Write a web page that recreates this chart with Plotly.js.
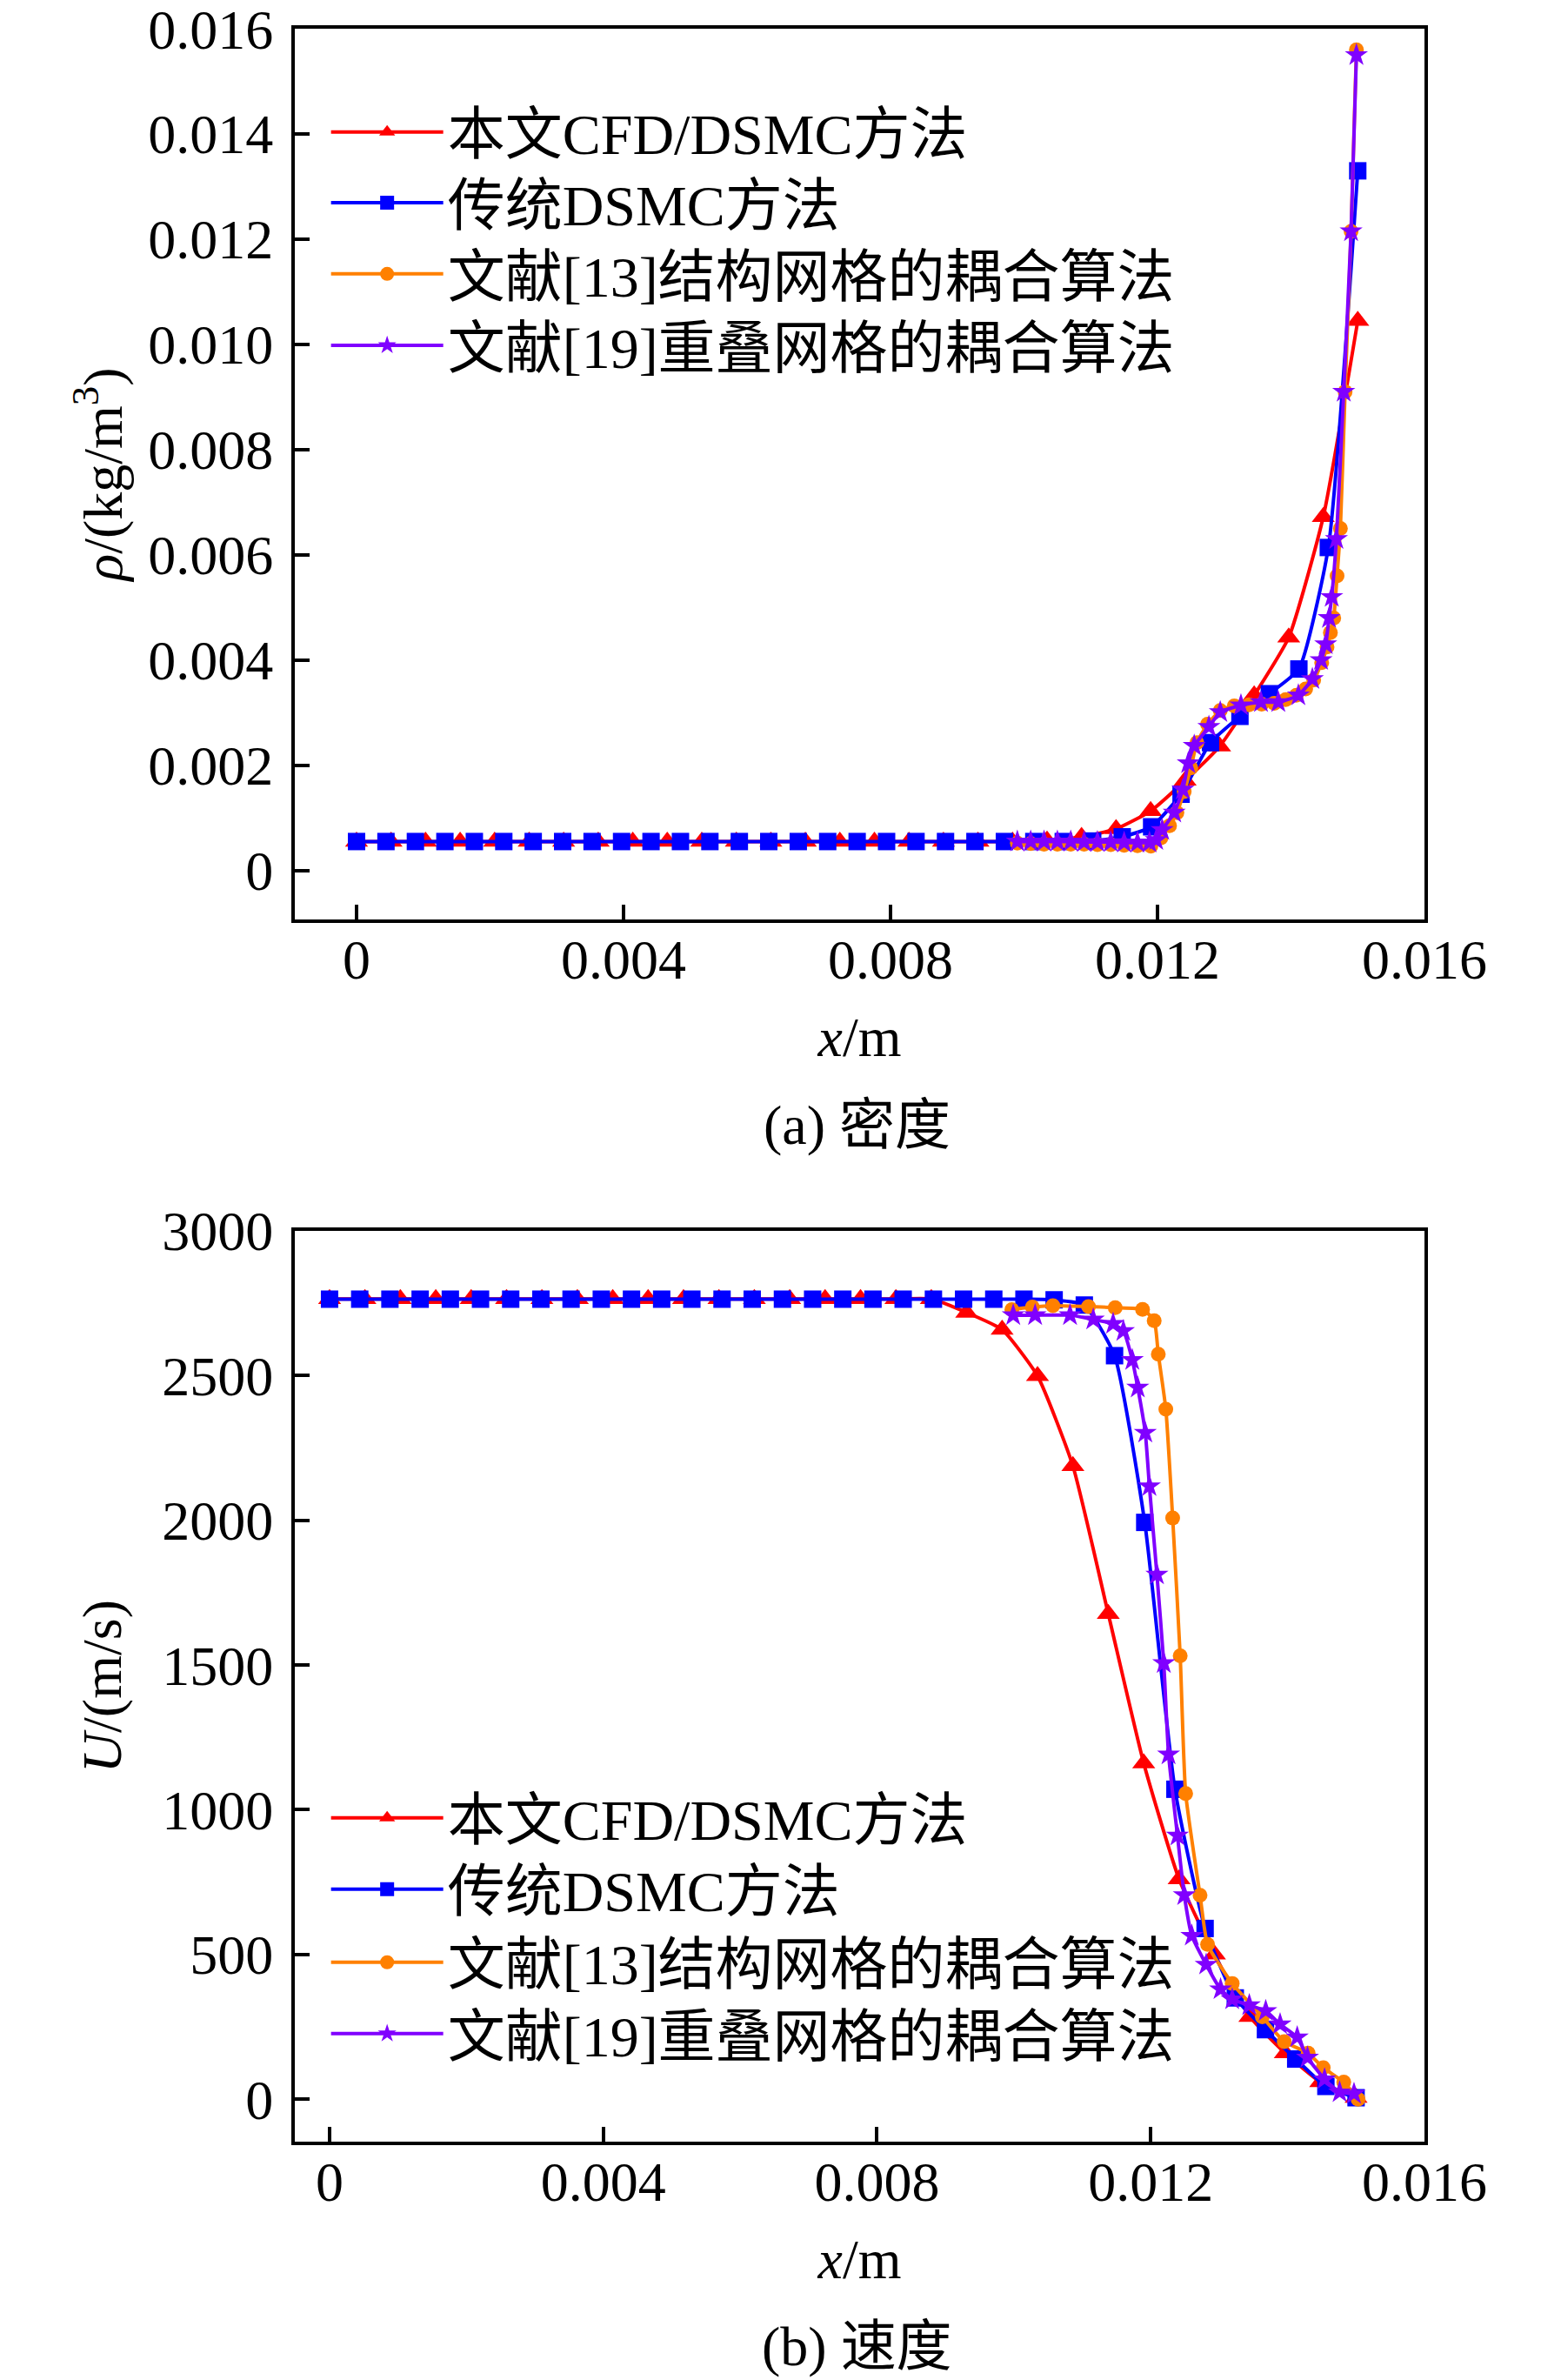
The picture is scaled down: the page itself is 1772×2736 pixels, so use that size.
<!DOCTYPE html>
<html>
<head>
<meta charset="utf-8">
<script src="https://cdn.plot.ly/plotly-3.0.1.min.js"></script>
<style>
  body { margin: 0; background: #fff; }
  #graph { width: 1772px; height: 2736px; }
</style>
</head>
<body>
<div id="graph"></div>
<script>
// series names
const names = ['本文CFD/DSMC方法', '传统DSMC方法', '文献[13]结构网格的耦合算法', '文献[19]重叠网格的耦合算法'];

// 本文CFD/DSMC方法 (red), x in m
const redX = [0, 0.000517, 0.001034, 0.001552, 0.002069, 0.002586, 0.003103, 0.003621, 0.004138, 0.004655,
  0.005172, 0.005690, 0.006207, 0.006724, 0.007241, 0.007759, 0.008276, 0.008793, 0.009310, 0.009828,
  0.010345, 0.010862, 0.011379, 0.011897, 0.012414, 0.012931, 0.013448, 0.013966, 0.014483, 0.015];
const redRho = [0.00055, 0.00055, 0.00055, 0.00055, 0.00055, 0.00055, 0.00055, 0.00055, 0.00055, 0.00055,
  0.00055, 0.00055, 0.00055, 0.00055, 0.00055, 0.00055, 0.00055, 0.00055, 0.00055, 0.00055,
  0.00057, 0.00064, 0.00079, 0.00113, 0.00171, 0.00236, 0.00333, 0.00443, 0.00672, 0.01045];
const redU = [2765, 2765, 2765, 2765, 2765, 2765, 2765, 2765, 2765, 2765,
  2765, 2765, 2765, 2765, 2765, 2765, 2765, 2765, 2718, 2659,
  2499, 2188, 1677, 1161, 760, 500, 285, 159, 59, 5];

// 传统DSMC方法 (blue)
const blueX = [0, 0.000441, 0.000882, 0.001324, 0.001765, 0.002206, 0.002647, 0.003088, 0.003529, 0.003971,
  0.004412, 0.004853, 0.005294, 0.005735, 0.006176, 0.006618, 0.007059, 0.0075, 0.007941, 0.008382,
  0.008824, 0.009265, 0.009706, 0.010147, 0.010588, 0.011029, 0.011471, 0.011912, 0.012353, 0.012794,
  0.013235, 0.013676, 0.014118, 0.014559, 0.015];
const blueRho = [0.00055, 0.00055, 0.00055, 0.00055, 0.00055, 0.00055, 0.00055, 0.00055, 0.00055, 0.00055,
  0.00055, 0.00055, 0.00055, 0.00055, 0.00055, 0.00055, 0.00055, 0.00055, 0.00055, 0.00055,
  0.00055, 0.00055, 0.00055, 0.00055, 0.00055, 0.00056, 0.00064, 0.00083, 0.00145, 0.00243,
  0.00293, 0.00336, 0.00383, 0.00614, 0.0133];
const blueU = [2764, 2764, 2764, 2764, 2764, 2764, 2764, 2764, 2764, 2764,
  2764, 2764, 2764, 2764, 2764, 2764, 2764, 2764, 2764, 2764,
  2764, 2764, 2764, 2764, 2762, 2744, 2569, 1993, 1071, 590,
  350, 240, 139, 44, 5];

// 文献[13]结构网格的耦合算法 (orange)
const orangeRhoX = [0.0099, 0.0101, 0.0103, 0.0105, 0.0107, 0.0109, 0.0111, 0.0113, 0.0115, 0.0117,
  0.0119, 0.01205, 0.01218, 0.01229, 0.0124, 0.0125, 0.01259, 0.01275, 0.01294, 0.01315,
  0.01337, 0.01356, 0.01375, 0.01392, 0.01408, 0.01422, 0.01434, 0.01446, 0.01454, 0.01459,
  0.01464, 0.01469, 0.01474, 0.01481, 0.0149, 0.01498];
const orangeRho = [0.00052, 0.00051, 0.0005, 0.0005, 0.0005, 0.0005, 0.00049, 0.00049, 0.00048, 0.00047,
  0.00046, 0.00062, 0.00085, 0.0011, 0.0015, 0.00195, 0.00243, 0.00278, 0.00304, 0.00313,
  0.00315, 0.00316, 0.00318, 0.00325, 0.00333, 0.00345, 0.00362, 0.00395, 0.00425, 0.00452,
  0.0048, 0.0056, 0.0065, 0.0091, 0.01215, 0.0156];
const orangeUX = [0.00997, 0.01027, 0.01057, 0.01109, 0.01148, 0.01188, 0.01205, 0.01211, 0.01222, 0.01232,
  0.01243, 0.01251, 0.01272, 0.01283, 0.01319, 0.01363, 0.01395, 0.0143, 0.01452, 0.01482, 0.01503];
const orangeU = [2728, 2737, 2742, 2739, 2735, 2729, 2690, 2574, 2384, 2008,
  1532, 1056, 705, 535, 400, 285, 199, 159, 109, 59, 0];

// 文献[19]重叠网格的耦合算法 (purple)
const purpleRhoX = [0.0099, 0.0101, 0.0103, 0.0105, 0.0107, 0.0109, 0.0111, 0.0113, 0.0115, 0.0117,
  0.01188, 0.01198, 0.01207, 0.01225, 0.01238, 0.01246, 0.01255, 0.01277, 0.01294, 0.01325,
  0.01355, 0.01381, 0.01411, 0.01432, 0.01445, 0.01452, 0.01457, 0.01461, 0.01468, 0.01479,
  0.0149, 0.01498];
const purpleRho = [0.00055, 0.00055, 0.00055, 0.00055, 0.00055, 0.00054, 0.00054, 0.00054, 0.00053, 0.00053,
  0.00053, 0.00058, 0.00077, 0.0011, 0.00154, 0.00204, 0.00237, 0.00273, 0.00301, 0.00314,
  0.0032, 0.0032, 0.00333, 0.00364, 0.004, 0.0043, 0.0048, 0.0052, 0.0063, 0.0091,
  0.01215, 0.0155];
const purpleUX = [0.00999, 0.01031, 0.01082, 0.01116, 0.01145, 0.0116, 0.01173, 0.01181, 0.01192, 0.01198,
  0.01209, 0.01219, 0.01226, 0.01239, 0.01249, 0.0126, 0.01281, 0.01302, 0.01319, 0.01344,
  0.01368, 0.01389, 0.01414, 0.01429, 0.01454, 0.01476, 0.01497];
const purpleU = [2709, 2709, 2709, 2694, 2679, 2654, 2554, 2459, 2303, 2118,
  1813, 1507, 1191, 911, 705, 565, 465, 380, 345, 325,
  305, 259, 214, 144, 69, 24, 19];

// tick labels
const xTickVals = [0, 0.004, 0.008, 0.012, 0.016];
const xTickText = ['0', '0.004', '0.008', '0.012', '0.016'];
const rhoTickVals = [0, 0.002, 0.004, 0.006, 0.008, 0.010, 0.012, 0.014, 0.016];
const rhoTickText = ['0', '0.002', '0.004', '0.006', '0.008', '0.010', '0.012', '0.014', '0.016'];
const uTickVals = [0, 500, 1000, 1500, 2000, 2500, 3000];
const uTickText = ['0', '500', '1000', '1500', '2000', '2500', '3000'];

const FONT = 'Liberation Serif, "Noto Sans CJK SC", serif';
const colors = ['#ff0000', '#0000ff', '#ff8000', '#8000ff'];
const symbols = ['triangle-up', 'square', 'circle', 'star'];
const sizes = [23, 20, 17, 20];

// legend rows (paper y of each entry's centre), one small legend per entry
const legendRowsTop = [0.9445, 0.9148, 0.8849, 0.8549];
const legendRowsBottom = [0.2362, 0.2062, 0.1755, 0.1455];

function series(i, x, y, xa, ya, leg) {
  return {
    x: x, y: y, name: names[i],
    xaxis: xa, yaxis: ya, legend: leg,
    type: 'scatter', mode: 'lines+markers',
    line: { color: colors[i], width: 4, shape: 'spline', smoothing: 0.5 },
    marker: { color: colors[i], symbol: symbols[i], size: sizes[i], line: { width: 0 } }
  };
}

function init_plot() {
  const data = [
    series(0, redX, redRho, 'x', 'y', 'legend'),
    series(1, blueX, blueRho, 'x', 'y', 'legend2'),
    series(2, orangeRhoX, orangeRho, 'x', 'y', 'legend3'),
    series(3, purpleRhoX, purpleRho, 'x', 'y', 'legend4'),
    series(0, redX, redU, 'x2', 'y2', 'legend5'),
    series(1, blueX, blueU, 'x2', 'y2', 'legend6'),
    series(2, orangeUX, orangeU, 'x2', 'y2', 'legend7'),
    series(3, purpleUX, purpleU, 'x2', 'y2', 'legend8')
  ];

  const axisCommon = {
    showline: true, linecolor: '#000', linewidth: 4, mirror: true,
    ticks: 'inside', ticklen: 17, tickwidth: 4, tickcolor: '#000',
    showgrid: false, zeroline: false,
    tickfont: { family: FONT, size: 64, color: '#000' },
    tickmode: 'array', ticklabeloverflow: 'allow'
  };

  function legendAt(y) {
    return {
      font: { family: FONT, size: 66, color: '#000' },
      bgcolor: 'rgba(0,0,0,0)', borderwidth: 0,
      x: 0.212, y: y, xanchor: 'left', yanchor: 'middle',
      itemwidth: 129
    };
  }

  const layout = {
    width: 1772, height: 2736,
    margin: { l: 0, r: 0, t: 0, b: 0 },
    paper_bgcolor: '#fff', plot_bgcolor: '#fff',
    font: { family: FONT, color: '#000' },
    showlegend: true,
    xaxis: Object.assign({}, axisCommon, {
      domain: [0.1913, 0.9244], anchor: 'y', range: [-0.000925, 0.016],
      tickvals: xTickVals, ticktext: xTickText, ticklabelstandoff: -13,
      title: { text: '<i>x</i>/m', font: { family: FONT, size: 64 }, standoff: 32 }
    }),
    yaxis: Object.assign({}, axisCommon, {
      domain: [0.6137, 0.9879], anchor: 'x', range: [-0.00093, 0.016],
      tickvals: rhoTickVals, ticktext: rhoTickText, ticklabelstandoff: 8,
      title: { text: '<i>ρ</i>/(kg/m<sup>3</sup>)', font: { family: FONT, size: 64 }, standoff: 10 }
    }),
    xaxis2: Object.assign({}, axisCommon, {
      domain: [0.1913, 0.9244], anchor: 'y2', range: [-0.000508, 0.016],
      tickvals: xTickVals, ticktext: xTickText, ticklabelstandoff: -13,
      title: { text: '<i>x</i>/m', font: { family: FONT, size: 64 }, standoff: 32 }
    }),
    yaxis2: Object.assign({}, axisCommon, {
      domain: [0.1001, 0.4828], anchor: 'x2', range: [-147, 3000],
      tickvals: uTickVals, ticktext: uTickText, ticklabelstandoff: 8,
      title: { text: '<i>U</i>/(m/s)', font: { family: FONT, size: 64 }, standoff: 27 }
    }),
    legend: legendAt(legendRowsTop[0]),
    legend2: legendAt(legendRowsTop[1]),
    legend3: legendAt(legendRowsTop[2]),
    legend4: legendAt(legendRowsTop[3]),
    legend5: legendAt(legendRowsBottom[0]),
    legend6: legendAt(legendRowsBottom[1]),
    legend7: legendAt(legendRowsBottom[2]),
    legend8: legendAt(legendRowsBottom[3]),
    annotations: [
      { text: '(a) 密度', xref: 'paper', yref: 'paper', x: 0.5564, y: 0.5274,
        xanchor: 'center', yanchor: 'middle',
        showarrow: false, font: { family: FONT, size: 64, color: '#000' } },
      { text: '(b) 速度', xref: 'paper', yref: 'paper', x: 0.5564, y: 0.0139,
        xanchor: 'center', yanchor: 'middle',
        showarrow: false, font: { family: FONT, size: 64, color: '#000' } }
    ]
  };

  Plotly.newPlot('graph', data, layout, { displayModeBar: false, staticPlot: true });
}

window.addEventListener("load", init_plot, false);
</script>
</body>
</html>
